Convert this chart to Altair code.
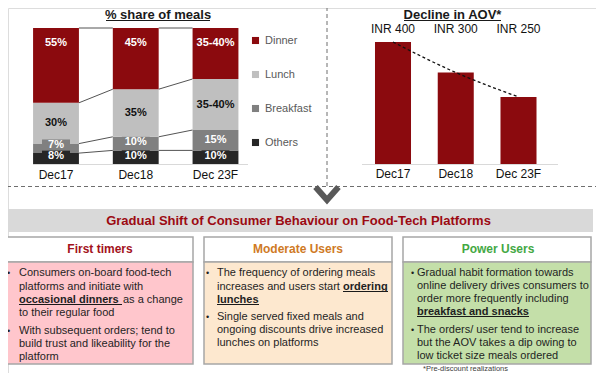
import altair as alt
import pandas as pd

# ------------------------------------------------------------------ data
periods = ["Dec17", "Dec18", "Dec 23F"]
meals = ["Dinner", "Lunch", "Breakfast", "Others"]
meal_colors = ["#8B0A0E", "#BFBFBF", "#808080", "#262626"]
share_dinner = [55, 45, 37.5]
share_lunch = [30, 35, 37.5]
share_breakfast = [7, 10, 15]
share_others = [8, 10, 10]
label_dinner = ["55%", "45%", "35-40%"]
label_lunch = ["30%", "35%", "35-40%"]
label_breakfast = ["7%", "10%", "15%"]
label_others = ["8%", "10%", "10%"]

aov_bar = [400, 300, 220]
aov_label = ["INR 400", "INR 300", "INR 250"]

# ------------------------------------------------------------------ layout
FONT = "Liberation Sans"
W, H, O = 588, 365, 8
XP = alt.Scale(domain=[O, O + W], range=[0, W])
YP = alt.Scale(domain=[O, O + H], range=[0, H])

# ------------------------------------------------------------------ left chart
shares = {"Dinner": share_dinner, "Lunch": share_lunch,
          "Breakfast": share_breakfast, "Others": share_others}
labels = {"Dinner": label_dinner, "Lunch": label_lunch,
          "Breakfast": label_breakfast, "Others": label_others}
stack_order = ["Others", "Breakfast", "Lunch", "Dinner"]
rows = []
for i, p in enumerate(periods):
    lo = 0.0
    for m in stack_order:
        v = shares[m][i]
        hi = lo + v
        mid = (lo + hi) / 2
        pos = hi - 11 if m == "Dinner" else max(mid, lo + 6)
        rows.append(dict(period=p, idx=i, meal=m, lo=lo, hi=hi, label=labels[m][i], pos=pos))
        lo = hi
seg = pd.DataFrame(rows)
HW = 0.2875
seg["x0"] = seg["idx"] - HW
seg["x1"] = seg["idx"] + HW
seg["bx0"] = seg["idx"] - 0.1755
seg["bx1"] = seg["idx"] + 0.1755
seg["by0"] = seg["pos"] - 4.04
seg["by1"] = seg["pos"] + 4.04

conn = []
for m in stack_order:
    for i in range(len(periods) - 1):
        a = seg[(seg.idx == i) & (seg.meal == m)].iloc[0]
        b = seg[(seg.idx == i + 1) & (seg.meal == m)].iloc[0]
        conn.append(dict(xa=i + HW, xb=i + 1 - HW, ya=a.hi, yb=b.hi))
conn = pd.DataFrame(conn)

xL = alt.Scale(domain=[0, 2], range=[56 - O, 215.5 - O])
yL = alt.Scale(domain=[0, 100], range=[164 - O, 28 - O])
cscale = alt.Scale(domain=meals, range=meal_colors)

l_conn = alt.Chart(conn).mark_rule(color="#404040", strokeWidth=0.9).encode(
    x=alt.X("xa:Q", scale=xL, axis=None), x2="xb:Q",
    y=alt.Y("ya:Q", scale=yL, axis=None), y2="yb:Q")
l_bars = alt.Chart(seg).mark_rect().encode(
    x=alt.X("x0:Q", scale=xL, axis=None), x2="x1:Q",
    y=alt.Y("lo:Q", scale=yL, axis=None), y2="hi:Q",
    color=alt.Color("meal:N", scale=cscale, sort=meals,
                    legend=alt.Legend(orient="none", legendX=242, legendY=27, title=None,
                                      symbolType="square", symbolSize=50, symbolStrokeWidth=0,
                                      labelFontSize=11, labelColor="#595959", labelFont=FONT,
                                      rowPadding=22, labelOffset=4, padding=0)))
l_box = alt.Chart(seg).mark_rect().encode(
    x=alt.X("bx0:Q", scale=xL, axis=None), x2="bx1:Q",
    y=alt.Y("by0:Q", scale=yL, axis=None), y2="by1:Q",
    color=alt.Color("meal:N", scale=cscale, legend=None))
l_txt_w = alt.Chart(seg[seg.meal != "Lunch"]).mark_text(
    font=FONT, fontSize=11, fontWeight="bold", color="white", baseline="middle").encode(
    x=alt.X("idx:Q", scale=xL, axis=None), y=alt.Y("pos:Q", scale=yL, axis=None), text="label:N")
l_txt_b = alt.Chart(seg[seg.meal == "Lunch"]).mark_text(
    font=FONT, fontSize=11, fontWeight="bold", color="#111111", baseline="middle").encode(
    x=alt.X("idx:Q", scale=xL, axis=None), y=alt.Y("pos:Q", scale=yL, axis=None), text="label:N")
cats = pd.DataFrame({"idx": range(len(periods)), "period": periods})
l_cat = alt.Chart(cats).mark_text(font=FONT, fontSize=12, color="#111111", baseline="middle").encode(
    x=alt.X("idx:Q", scale=xL, axis=None), y=alt.value(175 - O), text="period:N")
left = alt.layer(l_conn, l_bars, l_box, l_txt_w, l_txt_b, l_cat)

# ------------------------------------------------------------------ right chart
aov = pd.DataFrame({"idx": range(len(periods)), "period": periods,
                    "bar": aov_bar, "label": aov_label})
RHW = 0.287
aov["x0"] = aov["idx"] - RHW
aov["x1"] = aov["idx"] + RHW
xR = alt.Scale(domain=[0, 2], range=[393 - O, 518.5 - O])
yR = alt.Scale(domain=[0, 400], range=[164 - O, 42 - O])
r_bars = alt.Chart(aov).mark_rect(color="#8B0A0E").encode(
    x=alt.X("x0:Q", scale=xR, axis=None), x2="x1:Q",
    y=alt.Y("bar:Q", scale=yR, axis=None), y2=alt.datum(0))
r_line = alt.Chart(aov).mark_line(color="#111111", strokeWidth=1.3, strokeDash=[3, 2.5],
                                  interpolate="monotone").encode(
    x=alt.X("idx:Q", scale=xR, axis=None), y=alt.Y("bar:Q", scale=yR, axis=None))
r_lab = alt.Chart(aov).mark_text(font=FONT, fontSize=12, color="#111111", baseline="middle").encode(
    x=alt.X("idx:Q", scale=xR, axis=None), y=alt.value(29 - O), text="label:N")
r_cat = alt.Chart(aov).mark_text(font=FONT, fontSize=12, color="#111111", baseline="middle").encode(
    x=alt.X("idx:Q", scale=xR, axis=None), y=alt.value(174 - O), text="period:N")
right = alt.layer(r_bars, r_line, r_lab, r_cat)

# ------------------------------------------------------------------ decoration
def rect_layer(df, **kw):
    return alt.Chart(df).mark_rect(**kw).encode(
        x=alt.X("x:Q", scale=XP, axis=None), x2="x2:Q",
        y=alt.Y("y:Q", scale=YP, axis=None), y2="y2:Q",
        fill=alt.Fill("f:N", scale=None))


def rule_layer(df, **kw):
    return alt.Chart(df).mark_rule(**kw).encode(
        x=alt.X("x:Q", scale=XP, axis=None), x2="x2:Q",
        y=alt.Y("y:Q", scale=YP, axis=None), y2="y2:Q",
        color=alt.Color("c:N", scale=None),
        strokeWidth=alt.StrokeWidth("w:Q", scale=None))


def text_layer(items, weight, align):
    df = pd.DataFrame(items, columns=["x", "y", "t", "s", "c"])
    return alt.Chart(df).mark_text(font=FONT, fontWeight=weight, align=align, baseline="middle").encode(
        x=alt.X("x:Q", scale=XP, axis=None), y=alt.Y("y:Q", scale=YP, axis=None),
        text="t:N", color=alt.Color("c:N", scale=None), size=alt.Size("s:Q", scale=None))


banner = rect_layer(pd.DataFrame([dict(x=6, x2=593, y=209, y2=232, f="#D9D9D9")]))
boxes = rect_layer(pd.DataFrame([
    dict(x=7, x2=193, y=237, y2=262, f="#FFFFFF"),
    dict(x=7, x2=193, y=262, y2=364, f="#FFC6CC"),
    dict(x=204, x2=392, y=237, y2=262, f="#FFFFFF"),
    dict(x=204, x2=392, y=262, y2=364, f="#FDE8CF"),
    dict(x=403, x2=591, y=237, y2=262, f="#FFFFFF"),
    dict(x=403, x2=591, y=262, y2=364, f="#C4DFA9"),
]), stroke="#A6A6A6", strokeWidth=1.5)

dashed = rule_layer(pd.DataFrame([
    dict(x=327, x2=327, y=0, y2=186.5, c="#6E6E6E", w=1),
    dict(x=0, x2=610, y=186.5, y2=186.5, c="#6E6E6E", w=1),
]), strokeDash=[4, 3])
solid = rule_layer(pd.DataFrame([
    dict(x=33, x2=248, y=164.5, y2=164.5, c="#D9D9D9", w=1),
    dict(x=362, x2=558, y=164.5, y2=164.5, c="#D9D9D9", w=1),
    dict(x=106, x2=210, y=20.5, y2=20.5, c="#1A1A1A", w=1),
    dict(x=404, x2=501, y=20.5, y2=20.5, c="#1A1A1A", w=1),
    dict(x=19, x2=122, y=304.5, y2=304.5, c="#1A1A1A", w=1),
    dict(x=343, x2=388, y=291.5, y2=291.5, c="#1A1A1A", w=1),
    dict(x=217, x2=259, y=304.5, y2=304.5, c="#1A1A1A", w=1),
    dict(x=417, x2=529, y=316.5, y2=316.5, c="#1A1A1A", w=1),
    dict(x=423, x2=510, y=373.5, y2=373.5, c="#C00000", w=1),
]))

chev = alt.Chart(pd.DataFrame({"x": [315.5, 327, 338.5], "y": [187, 200, 187], "o": [0, 1, 2]})).mark_line(
    color="#595959", strokeWidth=6, strokeJoin="miter", strokeCap="butt").encode(
    x=alt.X("x:Q", scale=XP, axis=None), y=alt.Y("y:Q", scale=YP, axis=None), order="o:Q")

TXT = "#1F1F1F"
bold_center = text_layer([
    (158, 14.5, "% share of meals", 13, "#1A1A1A"),
    (452.5, 14.5, "Decline in AOV*", 13, "#1A1A1A"),
    (298.5, 221, "Gradual Shift of Consumer Behaviour on Food-Tech Platforms", 13, "#9C0A12"),
    (100, 249, "First timers", 12, "#A3121C"),
    (298, 249, "Moderate Users", 12, "#CF7A25"),
    (498, 249, "Power Users", 12, "#43A843"),
], "bold", "center")
bold_left = text_layer([
    (19, 300, "occasional dinners", 11, TXT),
    (343, 287, "ordering", 11, TXT),
    (217, 300, "lunches", 11, TXT),
    (417, 312, "breakfast and snacks", 11, TXT),
], "bold", "left")
norm_left = text_layer([
    (19, 273, "Consumers on-board food-tech", 11, TXT),
    (19, 287, "platforms and initiate with", 11, TXT),
    (123, 300, "as a change", 11, TXT),
    (19, 313, "to their regular food", 11, TXT),
    (19, 331, "With subsequent orders; tend to", 11, TXT),
    (19, 344, "build trust and likeability for the", 11, TXT),
    (19, 357, "platform", 11, TXT),
    (217, 273, "The frequency of ordering meals", 11, TXT),
    (217, 287, "increases and users start", 11, TXT),
    (217, 317, "Single served fixed meals and", 11, TXT),
    (217, 330, "ongoing discounts drive increased", 11, TXT),
    (217, 343, "lunches on platforms", 11, TXT),
    (417, 273, "Gradual habit formation towards", 11, TXT),
    (417, 286, "online delivery drives consumers to", 11, TXT),
    (417, 299, "order more frequently including", 11, TXT),
    (417, 330, "The orders/ user tend to increase", 11, TXT),
    (417, 343, "but the AOV takes a dip owing to", 11, TXT),
    (417, 356, "low ticket size meals ordered", 11, TXT),
    (7, 273, "•", 9, TXT),
    (7, 331, "•", 9, TXT),
    (206, 273, "•", 9, TXT),
    (206, 317, "•", 9, TXT),
    (411, 273, "•", 9, TXT),
    (411, 330, "•", 9, TXT),
    (423, 369, "*Pre-discount realizations", 7.5, "#404040"),
], "normal", "left")

deco = alt.layer(dashed, chev, banner, boxes, solid, bold_center, bold_left, norm_left)

chart = alt.layer(deco, left, right).resolve_scale(
    x="independent", y="independent", color="independent", size="independent",
    fill="independent", strokeWidth="independent"
).properties(width=W, height=H, autosize="none", padding=0).configure_view(stroke=None).configure(font=FONT)

chart.save("out.html", embed_options={"renderer": "svg", "actions": False})
